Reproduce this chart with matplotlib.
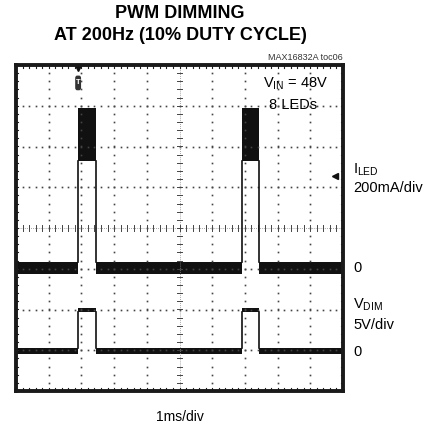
import matplotlib
matplotlib.use("Agg")
import matplotlib.pyplot as plt
from matplotlib.patches import FancyBboxPatch
import numpy as np

plt.rcParams['font.family'] = ['Liberation Sans Narrow', 'Liberation Sans', 'DejaVu Sans']

# scope screen: 10 div x 8 div, 1ms/div horizontally
pulse_on = [1.9, 6.9]      # ms, rising edges of VDIM / ILED
pulse_off = [2.45, 7.43]   # ms, falling edges

# ILED trace (div): ripple band when off and when on
led_off_band = (-1.14, -0.84)
led_on_band = (1.65, 2.95)
# VDIM trace (div)
vdim_low_band = (-3.09, -2.95)
vdim_high_band = (-2.07, -1.96)

trig_x = 1.9
led_gnd_marker = 1.28

fig = plt.figure(figsize=(4.37, 4.29), dpi=100)
ax = fig.add_axes([16/437, 1 - 391/429, 327/437, 326/429])
ax.set_xlim(0, 10)
ax.set_ylim(-4, 4)
ax.set_xticks([])
ax.set_yticks([])
for s in ax.spines.values():
    s.set_linewidth(2.8)
    s.set_color('#1a1a1a')

gc = '#444444'
# dotted graticule
for gx in range(1, 10):
    if gx == 5:
        continue
    ys = np.arange(-4, 4.01, 0.2)
    ax.plot(np.full_like(ys, gx), ys, ls='none', marker='s', ms=1.2, color=gc, mew=0)
for gy in range(-3, 4):
    if gy == 0:
        continue
    xs = np.arange(0, 10.01, 0.2)
    ax.plot(xs, np.full_like(xs, gy), ls='none', marker='s', ms=1.2, color=gc, mew=0)

# center axes with minor ticks
ax.plot([5, 5], [-4, 4], color='#888888', lw=0.6, ls=(0, (1, 1.5)))
ax.plot([0, 10], [0, 0], color='#888888', lw=0.6, ls=(0, (1, 1.5)))
for t in np.arange(0.2, 10, 0.2):
    ax.plot([t, t], [-0.07, 0.07], color=gc, lw=0.7)
for t in np.arange(-3.8, 4, 0.2):
    ax.plot([4.93, 5.07], [t, t], color=gc, lw=0.7)

# border ticks
for t in np.arange(0.2, 10, 0.2):
    ax.plot([t, t], [-4, -3.93], color='#222222', lw=0.8)
    ax.plot([t, t], [4, 3.93], color='#222222', lw=0.8)
for t in np.arange(-3.8, 4, 0.2):
    ax.plot([0, 0.06], [t, t], color='#222222', lw=0.8)
    ax.plot([10, 9.94], [t, t], color='#222222', lw=0.8)

tc = '#111111'
edges = [0] + [v for pair in zip(pulse_on, pulse_off) for v in pair] + [10]
# low segments of both channels
for a, b in zip(edges[0::2], edges[1::2]):
    ax.fill_between([a, b], *led_off_band, color=tc, lw=0)
    ax.fill_between([a, b], *vdim_low_band, color=tc, lw=0)
# high segments and edges
for a, b in zip(pulse_on, pulse_off):
    ax.fill_between([a, b], *led_on_band, color=tc, lw=0)
    ax.plot([a, a], [led_off_band[1], led_on_band[0]], color=tc, lw=1.2)
    ax.plot([b, b], [led_off_band[1], led_on_band[0]], color=tc, lw=1.2)
    ax.fill_between([a, b], *vdim_high_band, color=tc, lw=0)
    ax.plot([a, a], [vdim_low_band[1], vdim_high_band[0]], color=tc, lw=1.2)
    ax.plot([b, b], [vdim_low_band[1], vdim_high_band[0]], color=tc, lw=1.2)

# trigger marker
ax.plot([trig_x], [3.93], marker='v', ms=5, color=tc, clip_on=False)
ax.add_patch(FancyBboxPatch((trig_x - 0.09, 3.38), 0.18, 0.36,
                            boxstyle='round,pad=0,rounding_size=0.06',
                            fc='#333333', ec='none'))
ax.text(trig_x, 3.58, 'T', color='white', fontsize=5.5, ha='center', va='center',
        fontweight='bold')
# ground marker for ILED channel
ax.plot([9.75], [led_gnd_marker], marker='<', ms=5, color=tc)

ax.text(9.55, 3.55, r'V$_{\mathregular{IN}}$ = 48V', ha='right', va='center', fontsize=10.5)
ax.text(7.75, 3.03, '8 LEDs', ha='left', va='center', fontsize=10.5)

fs = 10.5
fig.text(353/437, 1 - 170/429, r'I$_{\mathregular{LED}}$', fontsize=fs, va='center')
fig.text(353/437, 1 - 188/429, '200mA/div', fontsize=fs, va='center')
fig.text(353/437, 1 - 268/429, '0', fontsize=fs, va='center')
fig.text(353/437, 1 - 305/429, r'V$_{\mathregular{DIM}}$', fontsize=fs, va='center')
fig.text(353/437, 1 - 325/429, '5V/div', fontsize=fs, va='center')
fig.text(353/437, 1 - 352/429, '0', fontsize=fs, va='center')
fig.text(180/437, 1 - 417/429, '1ms/div', fontsize=10, ha='center', va='center')

fig.text(180/437, 1 - 14/429, 'PWM DIMMING', fontsize=13, fontweight='bold',
         ha='center', va='center')
fig.text(180/437, 1 - 35/429, 'AT 200Hz (10% DUTY CYCLE)', fontsize=13,
         fontweight='bold', ha='center', va='center')
fig.text(343/437, 1 - 57/429, 'MAX16832A toc06', fontsize=6.5, ha='right',
         va='center', color='#333333')

fig.savefig('out.png', dpi=100)
